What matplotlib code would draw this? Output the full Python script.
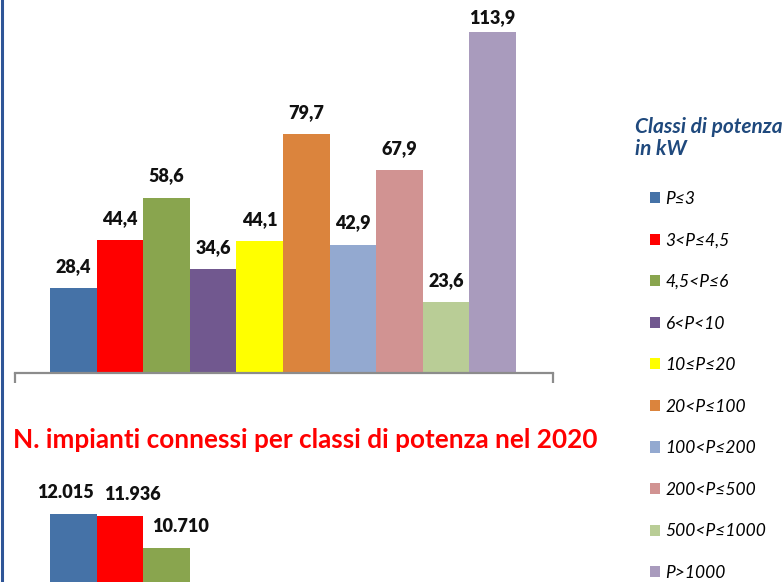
import matplotlib
matplotlib.use("Agg")
import matplotlib.pyplot as plt
from matplotlib.patches import Patch
from matplotlib.lines import Line2D
import numpy as np

plt.rcParams['font.family'] = ['Lato', 'DejaVu Sans']

# ---- data ----
classes = ["P≤3", "3<P≤4,5", "4,5<P≤6", "6<P<10", "10≤P≤20", "20<P≤100",
           "100<P≤200", "200<P≤500", "500<P≤1000", "P>1000"]
colors = ["#4572A7", "#FF0000", "#89A54E", "#71588F", "#FFFF00", "#DB843D",
          "#93A9D0", "#D19392", "#B9CD96", "#A99BBD"]
top_values = [28.4, 44.4, 58.6, 34.6, 44.1, 79.7, 42.9, 67.9, 23.6, 113.9]
top_labels = ["28,4", "44,4", "58,6", "34,6", "44,1", "79,7", "42,9", "67,9", "23,6", "113,9"]
bottom_values = [12015, 11936, 10710]
bottom_labels = ["12.015", "11.936", "10.710"]
title_text = "N. impianti connessi per classi di potenza nel 2020"
legend_title = "Classi di potenza\nin kW"

W, H = 784, 582
fig = plt.figure(figsize=(W / 100, H / 100), dpi=100)
fig.patch.set_facecolor("white")


def px_axes(left, top, right, bottom):
    return fig.add_axes([left / W, (H - bottom) / H, (right - left) / W, (bottom - top) / H])


bar_px = 46.6
ax_left, ax_right = 15, 553
bars_left = 50
xmin = -0.5 - (bars_left - ax_left) / bar_px
xmax = xmin + (ax_right - ax_left) / bar_px

# ---- top chart ----
top_ymax = 120
top_scale = 2.994
base_top = 373
ax1 = px_axes(ax_left, base_top - top_ymax * top_scale, ax_right, base_top)
ax1.set_facecolor("none")
x1 = np.arange(len(top_values))
ax1.bar(x1, top_values, width=1.0, color=colors, linewidth=0)
ax1.set_xlim(xmin, xmax)
ax1.set_ylim(0, top_ymax)
for s in ["top", "left", "right"]:
    ax1.spines[s].set_visible(False)
ax1.spines["bottom"].set_color("#8C8C8C")
ax1.spines["bottom"].set_linewidth(1.6)
ax1.set_yticks([])
ax1.set_xticks([xmin, xmax])
ax1.set_xticklabels(["", ""])
ax1.tick_params(axis="x", length=7.5, width=1.6, color="#8C8C8C", direction="out")
off_top = 16 / top_scale
label_kw = dict(ha="center", va="baseline", fontsize=13, fontweight="heavy", color="#111111")
for xi, v, lab in zip(x1, top_values, top_labels):
    ax1.text(xi, min(v + off_top, top_ymax - 3.1), lab, **label_kw)

# ---- bottom chart (cut off by page) ----
bot_scale = 0.02582
base_bot = 514 + bottom_values[0] * bot_scale
bot_ymax = 13000
ax2 = px_axes(ax_left, base_bot - bot_ymax * bot_scale, ax_right, base_bot)
ax2.set_facecolor("none")
x2 = np.arange(len(bottom_values))
ax2.bar(x2, bottom_values, width=1.0, color=colors[:len(bottom_values)], linewidth=0)
ax2.set_xlim(xmin, xmax)
ax2.set_ylim(0, bot_ymax)
ax2.axis("off")
# labels nudged sideways to avoid collisions (as the original chart does)
nudge_px = [-8, 12, 14]
for xi, v, lab, dx in zip(x2, bottom_values, bottom_labels, nudge_px):
    ax2.annotate(lab, (xi, v), xytext=(dx * 0.72, 16 * 0.72), textcoords="offset points",
                 **label_kw)

# ---- title of second chart ----
t = fig.text(13 / W, (H - 448) / H, title_text, color="#FF0000", fontweight="bold",
             fontsize=18, ha="left", va="baseline")
r = fig.canvas.get_renderer()
w = t.get_window_extent(renderer=r).width
t.set_fontsize(18 * 585 / w)

# ---- legend ----
fig.text(635 / W, (H - 155) / H, legend_title, color="#1F497D", fontweight="bold",
         fontstyle="italic", fontsize=15, ha="left", va="baseline", linespacing=1.15)
handles = [Patch(facecolor=c, edgecolor="none") for c in colors]
leg = fig.legend(handles, classes, loc="upper left",
                 bbox_to_anchor=(650 / W, (H - 191) / H), frameon=False,
                 prop={"style": "italic", "size": 12.5}, handlelength=0.6,
                 handleheight=0.6, handletextpad=0.3, labelspacing=1.47,
                 borderpad=0, borderaxespad=0)

# left border line of the slide
fig.add_artist(Line2D([2 / W, 2 / W], [0, 1], color="#2E5597", lw=2.2,
                      transform=fig.transFigure))

fig.savefig("out.png", dpi=100)
